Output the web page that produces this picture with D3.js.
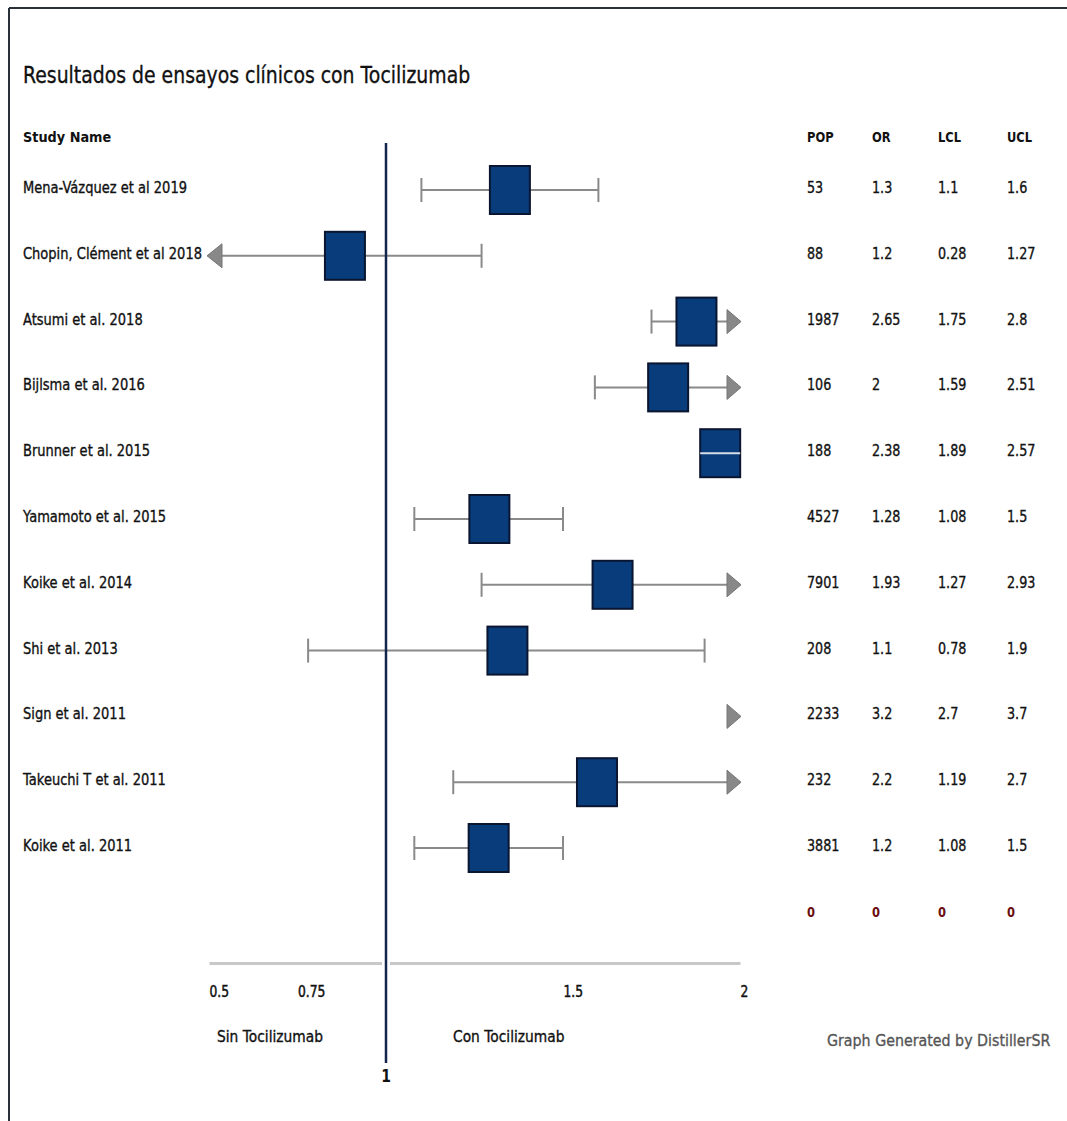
<!DOCTYPE html>
<html>
<head>
<meta charset="utf-8">
<script src="https://cdn.jsdelivr.net/npm/d3@7/dist/d3.min.js"></script>
<style>
  body { margin: 0; background: #fff; }
  svg text { font-family: "DejaVu Sans", sans-serif; fill: #111; }
</style>
</head>
<body>
<div id="chart"></div>
<script>
(function () {
  'use strict';

  var title = 'Resultados de ensayos clínicos con Tocilizumab';
  var studies = ['Mena-Vázquez et al 2019', 'Chopin, Clément et al 2018', 'Atsumi et al. 2018', 'Bijlsma et al. 2016',
    'Brunner et al. 2015', 'Yamamoto et al. 2015', 'Koike et al. 2014', 'Shi et al. 2013', 'Sign et al. 2011',
    'Takeuchi T et al. 2011', 'Koike et al. 2011'];
  var pop = [53, 88, 1987, 106, 188, 4527, 7901, 208, 2233, 232, 3881];
  var orVals = [1.3, 1.2, 2.65, 2, 2.38, 1.28, 1.93, 1.1, 3.2, 2.2, 1.2];
  var lcl = [1.1, 0.28, 1.75, 1.59, 1.89, 1.08, 1.27, 0.78, 2.7, 1.19, 1.08];
  var ucl = [1.6, 1.27, 2.8, 2.51, 2.57, 1.5, 2.93, 1.9, 3.7, 2.7, 1.5];
  // where the square is actually drawn on the axis
  var markPos = [1.35, 0.884, 1.877, 1.797, 1.944, 1.292, 1.64, 1.343, null, 1.596, 1.29];
  var headers = ['POP', 'OR', 'LCL', 'UCL'];
  var totalRow = [0, 0, 0, 0];
  var tickVals = [0.5, 0.75, 1.5, 2];
  var refValue = 1;
  var leftLabel = 'Sin Tocilizumab';
  var rightLabel = 'Con Tocilizumab';
  var footer = 'Graph Generated by DistillerSR';

  var W = 1067, H = 1121;
  var SX = 0.82; // the source is horizontally squeezed
  var colX = [807, 872, 938, 1007];
  var boxW = 40, boxH = 48;

  var svg = d3.select('#chart').append('svg').attr('width', W).attr('height', H);

  function txt(x, y, s, size, opts) {
    opts = opts || {};
    return svg.append('text')
      .attr('transform', 'translate(' + x + ',' + y + ') scale(' + (opts.sx || SX) + ',1)')
      .attr('text-anchor', opts.anchor || 'start')
      .attr('font-size', size)
      .attr('font-weight', opts.bold ? 'bold' : 'normal')
      .style('fill', opts.fill || '#111')
      .style('stroke', opts.fill || '#111')
      .style('stroke-width', opts.bold ? 0 : 0.35)
      .text(s);
  }

  // frame
  svg.append('line').attr('x1', 9).attr('x2', W).attr('y1', 8).attr('y2', 8).attr('stroke', '#2b313b').attr('stroke-width', 2);
  svg.append('line').attr('x1', 9).attr('x2', 9).attr('y1', 8).attr('y2', H).attr('stroke', '#2b313b').attr('stroke-width', 2);

  var x = d3.scaleLinear().domain([0.5, 2]).range([209, 740]);
  var y = d3.scaleLinear().domain([0, 1]).range([190, 255.8]);

  txt(23, 83, title, 23, { sx: 0.82 });
  txt(23, 142, 'Study Name', 14, { bold: true, sx: 0.92 });
  headers.forEach(function (h, j) { txt(colX[j], 142, h, 14, { bold: true }); });

  studies.forEach(function (s, i) {
    var yy = y(i) + 3;
    txt(23, yy, s, 15, { sx: 0.87 });
    [pop[i], orVals[i], lcl[i], ucl[i]].forEach(function (v, j) { txt(colX[j], yy, String(v), 15, { sx: 0.85 }); });
  });
  totalRow.forEach(function (v, j) {
    txt(colX[j], y(studies.length) + 3, String(v), 14, { bold: true, fill: '#6b0f12' });
  });

  // axis
  var axisY = 963;
  var ax = svg.append('g').attr('transform', 'translate(0,' + axisY + ')')
    .call(d3.axisBottom(x).tickValues(tickVals).tickSize(0).tickPadding(0).tickFormat(String));
  ax.select('.domain').attr('stroke', '#c8c8c8').attr('stroke-width', 3);
  ax.selectAll('.tick text')
    .attr('y', 34).attr('dy', null)
    .attr('text-anchor', 'start')
    .attr('transform', 'scale(' + SX + ',1)')
    .attr('font-size', 15).attr('font-weight', 'normal')
    .attr('font-family', '"DejaVu Sans", sans-serif').style('fill', '#111')
    .style('stroke', '#111').style('stroke-width', 0.5);
  svg.append('rect').attr('x', x(refValue) - 4).attr('y', axisY - 3).attr('width', 8).attr('height', 6).attr('fill', '#fff');

  // whiskers + arrows
  var whiskerColor = '#8a8a8a';
  var g = svg.append('g');
  studies.forEach(function (s, i) {
    var cy = y(i);
    var lo = Math.max(lcl[i], 0.5), hi = Math.min(ucl[i], 2);
    if (lo < hi) {
      g.append('line').attr('x1', x(lo)).attr('x2', x(hi)).attr('y1', cy).attr('y2', cy)
        .attr('stroke', whiskerColor).attr('stroke-width', 2);
    }
    if (lcl[i] >= 0.5 && lcl[i] <= 2) {
      g.append('line').attr('x1', x(lcl[i])).attr('x2', x(lcl[i])).attr('y1', cy - 12).attr('y2', cy + 12)
        .attr('stroke', whiskerColor).attr('stroke-width', 2);
    }
    if (ucl[i] <= 2) {
      g.append('line').attr('x1', x(ucl[i])).attr('x2', x(ucl[i])).attr('y1', cy - 12).attr('y2', cy + 12)
        .attr('stroke', whiskerColor).attr('stroke-width', 2);
    }
    if (lcl[i] < 0.5) {
      var lx = x(0.5) - 2;
      g.append('path').attr('d', 'M' + lx + ',' + cy + 'L' + (lx + 15) + ',' + (cy - 12) + 'L' + (lx + 15) + ',' + (cy + 12) + 'Z')
        .attr('fill', '#888').attr('stroke', '#777').attr('stroke-width', 1);
    }
    if (ucl[i] > 2) {
      var rx = x(2) + 1;
      g.append('path').attr('d', 'M' + rx + ',' + cy + 'L' + (rx - 14) + ',' + (cy - 12) + 'L' + (rx - 14) + ',' + (cy + 12) + 'Z')
        .attr('fill', '#888').attr('stroke', '#777').attr('stroke-width', 1);
    }
  });

  // squares
  studies.forEach(function (s, i) {
    if (markPos[i] == null) return;
    var cx = x(markPos[i]), cy = y(i);
    g.append('rect').attr('x', cx - boxW / 2).attr('y', cy - boxH / 2).attr('width', boxW).attr('height', boxH)
      .attr('fill', '#083c7a').attr('stroke', '#0a1631').attr('stroke-width', 2);
    if (cx + boxW / 2 >= x(2) - 1) {
      g.append('line').attr('x1', cx - boxW / 2).attr('x2', cx + boxW / 2).attr('y1', cy).attr('y2', cy)
        .attr('stroke', '#d8dee6').attr('stroke-width', 2);
    }
  });

  // reference line
  svg.append('line').attr('x1', x(refValue)).attr('x2', x(refValue)).attr('y1', 143).attr('y2', 1063)
    .attr('stroke', '#13244d').attr('stroke-width', 2.5);
  txt(x(refValue), 1082, String(refValue), 17, { bold: true, anchor: 'middle' });

  txt(217, 1042, leftLabel, 15, { sx: 0.92 });
  txt(453, 1042, rightLabel, 15, { sx: 0.92 });
  txt(827, 1046, footer, 16, { fill: '#555', sx: 0.89 });
})();
</script>
</body>
</html>
